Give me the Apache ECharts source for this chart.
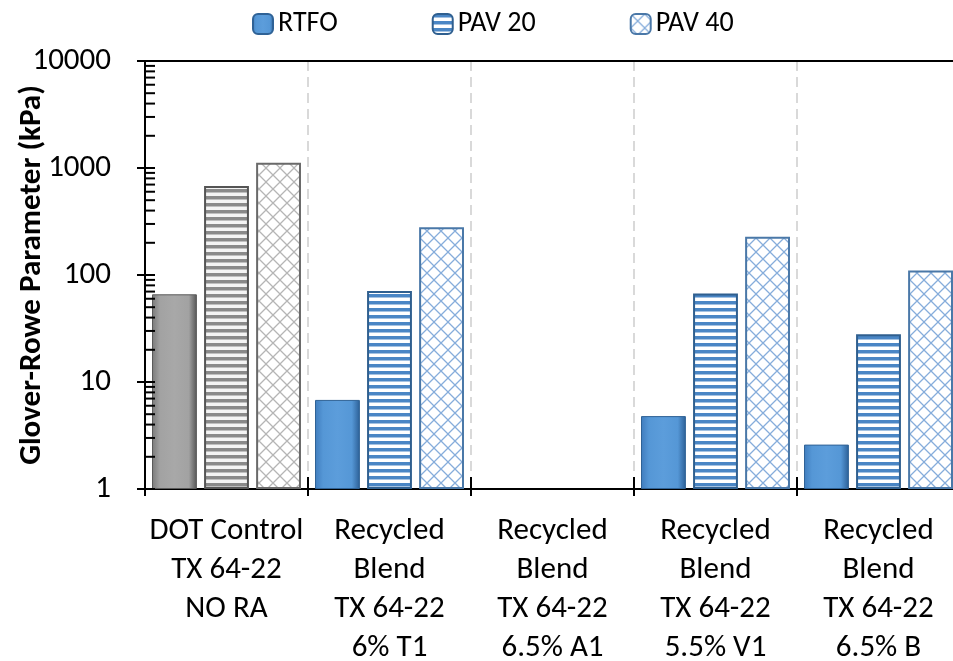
<!DOCTYPE html>
<html><head><meta charset="utf-8">
<script src="https://cdn.jsdelivr.net/npm/echarts@6/dist/echarts.min.js"></script>
<style>html,body{margin:0;padding:0;background:#fff}#c{width:953px;height:661px}</style>
</head><body><div id="c"></div>
<script>
var categories = ['DOT Control\nTX 64-22\nNO RA', 'Recycled\nBlend\nTX 64-22\n6% T1', 'Recycled\nBlend\nTX 64-22\n6.5% A1', 'Recycled\nBlend\nTX 64-22\n5.5% V1', 'Recycled\nBlend\nTX 64-22\n6.5% B'];
var seriesNames = ['RTFO', 'PAV 20', 'PAV 40'];
var rtfo = [66, 6.8, null, 4.8, 2.6];
var pav20 = [680, 71, null, 67, 28];
var pav40 = [1120, 279, null, 228, 110];
var yTickLabels = ['1', '10', '100', '1000', '10000'];
var axisTickValues = [1,2,3,4,5,6,7,8,9,10,20,30,40,50,60,70,80,90,100,200,300,400,500,600,700,800,900,1000,2000,3000,4000,5000,6000,7000,8000,9000,10000];

var FONT = 'Carlito, Lato, sans-serif';

function stripePattern(c1, c2) {
  var cv = document.createElement('canvas'); cv.width = 8; cv.height = 7;
  var g = cv.getContext('2d');
  g.fillStyle = c2; g.fillRect(0, 0, 8, 7);
  g.fillStyle = c1; g.fillRect(0, 0, 8, 3.5);
  return {image: cv, repeat: 'repeat'};
}
function crossPattern(c1, bg) {
  var s = 14;
  var cv = document.createElement('canvas'); cv.width = s; cv.height = s;
  var g = cv.getContext('2d');
  g.fillStyle = bg; g.fillRect(0, 0, s, s);
  g.strokeStyle = c1; g.lineWidth = 1.3;
  g.beginPath();
  g.moveTo(-1, -1); g.lineTo(s + 1, s + 1);
  g.moveTo(s + 1, -1); g.lineTo(-1, s + 1);
  g.stroke();
  return {image: cv, repeat: 'repeat'};
}
function bevel(dark, mid, light, darker) {
  return {type: 'linear', x: 0, y: 0, x2: 1, y2: 0, colorStops: [
    {offset: 0, color: dark}, {offset: 0.18, color: mid}, {offset: 0.5, color: light},
    {offset: 0.82, color: mid}, {offset: 1, color: darker}]};
}

var blueSolid = bevel('#3f7cbd', '#5597d6', '#5c9ddb', '#2c5f96');
var graySolid = bevel('#7a7a7a', '#a2a2a2', '#a8a8a8', '#555555');
var blueStripe = stripePattern('#4a86c5', '#ffffff');
var grayStripe = stripePattern('#8a8a8a', '#f4f4f4');
var blueCross = crossPattern('#86addb', '#ffffff');
var grayCross = crossPattern('#b5b5b5', '#ffffff');

function buildData(arr, grayFirst) {
  return arr.map(function (v, i) {
    if (i === 0 && grayFirst) {
      return {value: v, itemStyle: grayFirst};
    }
    return v;
  });
}

var chart = echarts.init(document.getElementById('c'), null, {renderer: 'canvas'});
var option = {
  animation: false,
  textStyle: {fontFamily: FONT},
  legend: {
    data: seriesNames,
    left: 252, top: 10, padding: 0,
    itemWidth: 20, itemHeight: 20, itemGap: 94,
    textStyle: {fontFamily: FONT, fontSize: 28, color: '#000'}
  },
  grid: {left: 145, top: 61, width: 815, height: 428, show: false, containLabel: false, outerBoundsMode: 'none'},
  xAxis: [{
    type: 'category', data: categories, position: 'bottom',
    axisLine: {lineStyle: {color: '#000', width: 2}},
    axisTick: {show: true, length: 7, lineStyle: {color: '#000', width: 2}},
    splitLine: {show: true, lineStyle: {color: '#d9d9d9', type: [10, 6], width: 2}},
    axisLabel: {fontFamily: FONT, fontSize: 31, color: '#000', lineHeight: 39, margin: 23, verticalAlign: 'top', interval: 0}
  }, {
    type: 'category', data: categories, position: 'bottom', gridIndex: 0,
    axisLine: {show: false},
    axisTick: {show: true, inside: true, length: 12, lineStyle: {color: '#000', width: 2}},
    axisLabel: {show: false}, splitLine: {show: false}
  }, {
    type: 'category', data: categories, position: 'top', gridIndex: 0,
    axisLine: {show: true, lineStyle: {color: '#000', width: 2}},
    axisTick: {show: false}, axisLabel: {show: false}, splitLine: {show: false}
  }],
  yAxis: {
    type: 'log', logBase: 10, min: 1, max: 10000,
    name: 'Glover-Rowe Parameter (kPa)', nameLocation: 'middle', nameGap: 97, nameRotate: 90,
    nameMoveOverlap: false,
    nameTextStyle: {fontFamily: FONT, fontSize: 31, fontWeight: 'bold', color: '#000'},
    axisLine: {show: true, lineStyle: {color: '#000', width: 2}},
    axisTick: {show: true, length: 8, lineStyle: {color: '#000', width: 2}},
    splitLine: {show: false},
    axisLabel: {fontFamily: FONT, fontSize: 31, color: '#000', margin: 34,
      formatter: function (v) { var s = String(Math.round(v)); return yTickLabels.indexOf(s) >= 0 ? s : ''; }}
  },
  series: [{
    name: seriesNames[0], type: 'bar', data: buildData(rtfo, {color: graySolid, borderColor: '#5a5a5a'}),
    barGap: '16%', barCategoryGap: '8.6%',
    itemStyle: {color: blueSolid, borderColor: '#2f6296', borderWidth: 1}
  }, {
    name: seriesNames[1], type: 'bar', data: buildData(pav20, {color: grayStripe, borderColor: '#555555'}),
    itemStyle: {color: blueStripe, borderColor: '#2f5f8f', borderWidth: 2}
  }, {
    name: seriesNames[2], type: 'bar', data: buildData(pav40, {color: grayCross, borderColor: '#6a6a6a'}),
    itemStyle: {color: blueCross, borderColor: '#4a78a8', borderWidth: 2}
  }, {
    type: 'custom', silent: true, z: 10,
    data: axisTickValues.map(function (v) { return [0, v]; }),
    renderItem: function (params, api) {
      var y = api.coord([0, api.value(1)])[1];
      var x = params.coordSys.x;
      return {type: 'line', shape: {x1: x, y1: y, x2: x + 10, y2: y}, style: {stroke: '#000', lineWidth: 2}};
    }
  }]
};
chart.setOption(option);
</script>
</body></html>
